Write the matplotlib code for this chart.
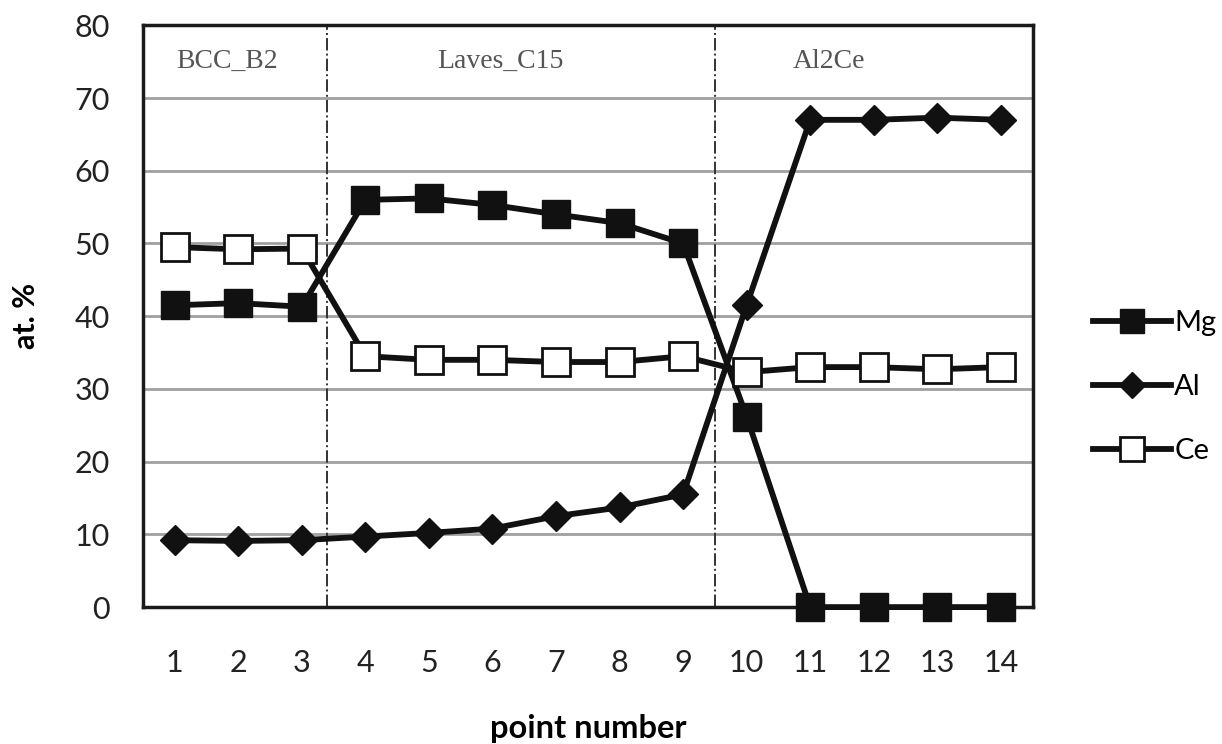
import matplotlib
matplotlib.use("Agg")
import matplotlib.pyplot as plt

points = list(range(1, 15))
mg = [41.5, 41.8, 41.3, 56.0, 56.2, 55.3, 54.0, 52.8, 50.0, 26.2, 0, 0, 0, 0]
al = [9.2, 9.1, 9.2, 9.7, 10.2, 10.8, 12.5, 13.7, 15.5, 41.5, 67.0, 67.0, 67.3, 67.0]
ce = [49.5, 49.2, 49.3, 34.5, 34.0, 34.0, 33.7, 33.7, 34.5, 32.3, 33.0, 33.0, 32.7, 33.0]
phase_names = ["BCC_B2", "Laves_C15", "Al2Ce"]
phase_x = [1.83, 6.12, 11.29]
boundaries = [3.4, 9.5]

plt.rcParams['font.family'] = ['Lato', 'DejaVu Sans']
fig = plt.figure(figsize=(12.22, 7.44), dpi=100)
ax = fig.add_axes([0.117, 0.184, 0.728, 0.782])

ax.yaxis.grid(True, color='#a0a0a0', linewidth=2)
ax.set_axisbelow(True)

lw = 4.2
ax.plot(points, mg, color='#111111', lw=lw, marker='s', ms=19.5, label='Mg',
        zorder=3, clip_on=False)
ax.plot(points, al, color='#111111', lw=lw, marker='D', ms=15.5, label='Al', zorder=3)
ax.plot(points, ce, color='#111111', lw=lw, marker='s', ms=19.5, mfc='white',
        mec='#111111', mew=2, label='Ce', zorder=4)

for b in boundaries:
    ax.axvline(b, color='#333333', lw=1.4, ls='-.', zorder=2)
for name, xp in zip(phase_names, phase_x):
    ax.text(xp, 75, name, ha='center', va='center', fontsize=20,
            family=['Liberation Serif'], color='#555555')

ax.set_xlim(0.5, 14.5)
ax.set_ylim(0, 80)
ax.set_xticks(points)
ax.set_yticks(range(0, 81, 10))
ax.tick_params(length=0, labelsize=22, colors='#222222')
ax.tick_params(axis='x', pad=30)
ax.tick_params(axis='y', pad=24)
for s in ax.spines.values():
    s.set_linewidth(2.5)
    s.set_color('#1a1a1a')

ax.set_xlabel('point number', fontsize=23.5, fontweight='bold', va='center')
ax.xaxis.set_label_coords(0.5, -0.208)
ax.set_ylabel('at. %', fontsize=22, fontweight='bold', va='center')
ax.yaxis.set_label_coords(-0.132, 0.5)

ax.legend(loc='center left', bbox_to_anchor=(1.038, 0.378), frameon=False,
          fontsize=21, handlelength=2.7, labelspacing=1.3, handletextpad=0.1,
          markerscale=0.85)

fig.savefig('out.png', dpi=100)
